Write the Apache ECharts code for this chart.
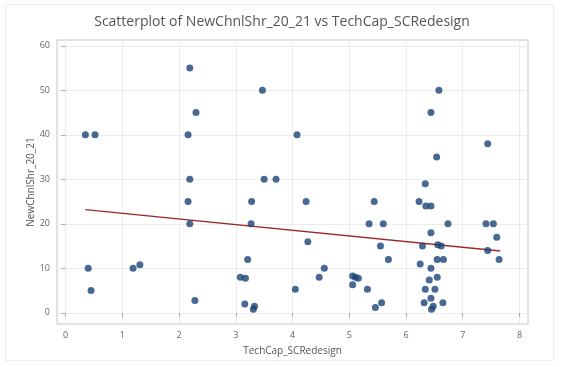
<!DOCTYPE html>
<html>
<head>
<meta charset="utf-8">
<script src="https://cdn.jsdelivr.net/npm/echarts@6/dist/echarts.min.js"></script>
<style>
  html, body { margin: 0; padding: 0; background: #fff; }
  #chart { width: 575px; height: 367px; }
</style>
</head>
<body>
<div id="chart"></div>
<script>
// TechCap_SCRedesign (x) vs NewChnlShr_20_21 (y)
const techCap = [
  0.35, 0.52, 0.40, 0.45, 1.19, 1.31,
  2.19, 2.30, 2.16, 2.19, 2.16, 2.19, 2.28,
  3.28, 3.27, 3.21, 3.08, 3.17, 3.16, 3.33, 3.31,
  3.47, 4.08, 3.50, 3.71, 4.24, 4.27, 4.56, 4.47, 4.05,
  5.44, 5.35, 5.60, 5.55, 5.69, 5.06, 5.11, 5.16, 5.06, 5.32, 5.57, 5.46,
  6.58, 6.44, 7.44, 6.54, 6.34, 6.23, 6.35, 6.44, 6.74, 7.41, 7.54, 7.60,
  6.44, 6.29, 6.56, 6.62, 7.44, 7.64, 6.55, 6.66, 6.25, 6.44, 6.55, 6.41,
  6.34, 6.51, 6.44, 6.32, 6.65, 6.48, 6.45
];
const newChnlShr = [
  40, 40, 10, 5, 10, 10.8,
  55, 45, 40, 30, 25, 20, 2.8,
  25, 20, 12, 8, 7.8, 2, 1.5, 0.8,
  50, 40, 30, 30, 25, 16, 10, 8, 5.3,
  25, 20, 20, 15, 12, 8.3, 8, 7.8, 6.3, 5.3, 2.3, 1.2,
  50, 45, 38, 35, 29, 25, 24, 24, 20, 20, 20, 17,
  18, 15, 15.3, 15, 14, 12, 12, 12, 11, 10, 8, 7.4,
  5.3, 5.3, 3.3, 2.3, 2.3, 1.5, 0.8
];

// Fitted line end points
const fitX = [0.35, 7.66];
const fitY = [23.2, 13.9];

const xTicks = [0, 1, 2, 3, 4, 5, 6, 7, 8];
const yTicks = [0, 10, 20, 30, 40, 50, 60];

const points = techCap.map((x, i) => [x, newChnlShr[i]]);
const fitLine = fitX.map((x, i) => [x, fitY[i]]);

const chart = echarts.init(document.getElementById('chart'), null, { renderer: 'canvas' });
const labelFont = { fontFamily: 'Open Sans', fontSize: 9, color: '#666' };

chart.setOption({
  animation: false,
  backgroundColor: '#fff',
  graphic: [{
    type: 'rect',
    shape: { x: 5.5, y: 4.5, width: 548, height: 356 },
    style: { fill: 'none', stroke: '#ececec', lineWidth: 1 },
    silent: true,
    z: -10
  }],
  title: {
    text: 'Scatterplot of NewChnlShr_20_21 vs TechCap_SCRedesign',
    left: 277,
    top: 10,
    textAlign: 'center',
    textStyle: { fontFamily: 'Open Sans', fontSize: 14, fontWeight: 'normal', color: '#555' }
  },
  grid: {
    left: 57, top: 40, right: 47, bottom: 43,
    show: true, borderColor: '#c4c4c4', borderWidth: 1
  },
  xAxis: {
    type: 'value',
    min: -0.15, max: 8.15,
    name: 'TechCap_SCRedesign',
    nameLocation: 'middle',
    nameGap: 22,
    nameMoveOverlap: false,
    nameTextStyle: { fontFamily: 'Open Sans', fontSize: 10, color: '#555' },
    axisLine: { show: false },
    axisTick: { show: true, customValues: xTicks, length: 4, lineStyle: { color: '#aaa' } },
    axisLabel: { customValues: xTicks, margin: 7, ...labelFont },
    splitLine: { show: true, lineStyle: { color: '#ececec', width: 1 } }
  },
  yAxis: {
    type: 'value',
    min: -2.5, max: 61.3,
    name: 'NewChnlShr_20_21',
    nameLocation: 'middle',
    nameGap: 21,
    nameMoveOverlap: false,
    nameTextStyle: { fontFamily: 'Open Sans', fontSize: 10, color: '#555' },
    axisLine: { show: false },
    axisTick: { show: true, customValues: yTicks, length: 4, lineStyle: { color: '#aaa' } },
    axisLabel: { customValues: yTicks, margin: 7, ...labelFont },
    splitLine: { show: true, lineStyle: { color: '#ececec', width: 1 } }
  },
  series: [
    {
      type: 'scatter',
      data: points,
      symbolSize: 7,
      itemStyle: { color: '#1b4478' },
      z: 3
    },
    {
      type: 'line',
      data: fitLine,
      symbol: 'none',
      lineStyle: { color: '#9c2a2a', width: 1.3 },
      z: 2
    }
  ]
});
</script>
</body>
</html>
